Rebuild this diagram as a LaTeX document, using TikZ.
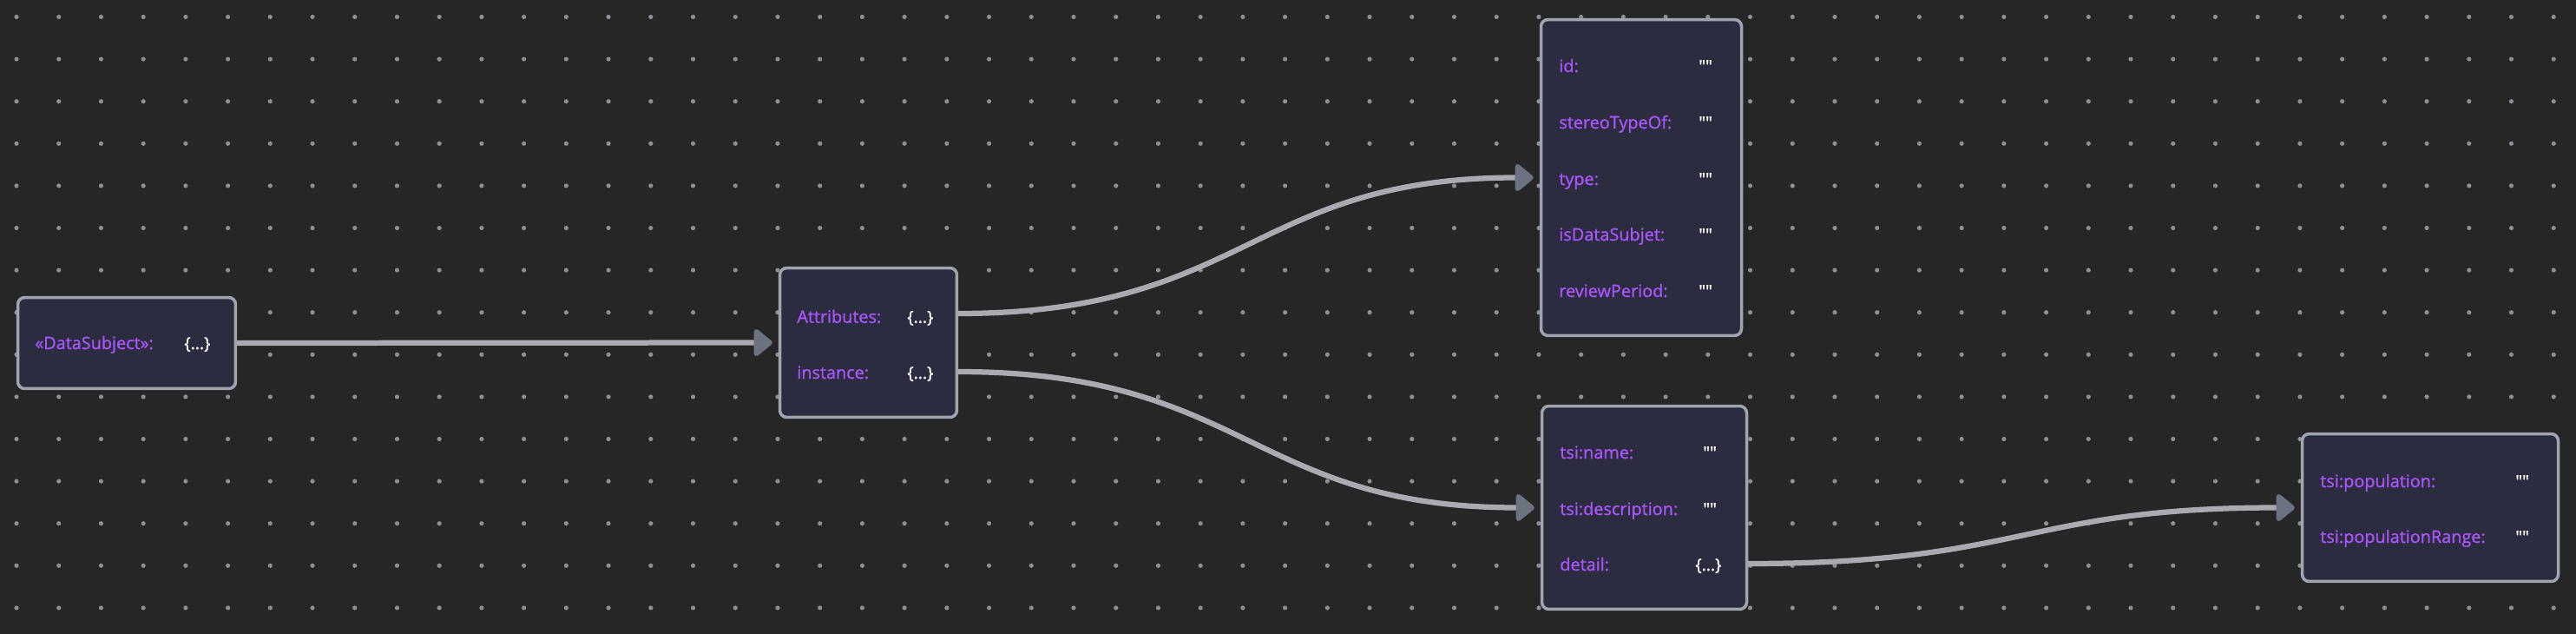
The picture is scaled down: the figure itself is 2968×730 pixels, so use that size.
\documentclass[tikz,border=0pt]{standalone}
\usepackage{fontspec}
\setmainfont{Open Sans}
\newfontfamily\keyfont{Open Sans}[FakeBold=1.2]
\newfontfamily\valfont{Open Sans}[FakeBold=1.2,Ligatures=TeXOff]
\usetikzlibrary{arrows.meta}
\definecolor{bgcol}{HTML}{262626}
\definecolor{dotcol}{HTML}{8E8E94}
\definecolor{boxfill}{HTML}{2B2C3F}
\definecolor{boxborder}{HTML}{A0A4AE}
\definecolor{keycol}{HTML}{A855F7}
\definecolor{edgecol}{HTML}{AAAAB0}
\definecolor{tipcol}{HTML}{6B7280}
\begin{document}
\begin{tikzpicture}[x=0.02cm,y=-0.02cm,
  box/.style={draw=boxborder, fill=boxfill, line width=0.07cm, rounded corners=0.16cm, inner sep=0pt},
  key/.style={anchor=base west, text=keycol, font=\keyfont\fontsize{11.3}{14}\selectfont, inner sep=0pt},
  val/.style={anchor=base west, text=white, font=\valfont\fontsize{11}{14}\selectfont, inner sep=0pt},
  link/.style={draw=edgecol, line width=0.125cm, -{Triangle[length=0.46cm,width=0.72cm,color=tipcol,round]}, shorten >=0.14cm}
]
\fill[bgcol] (0,0) rectangle (2968,730);
\useasboundingbox (0,0) rectangle (2968,730);
\foreach \i in {0,...,60}{\foreach \j in {0,...,14}{\fill[dotcol] ({19+48.72*\i},{19.5+48.6*\j}) circle (0.052cm);}}

% boxes
\node[box, minimum width=5.02cm, minimum height=2.1cm] (ds) at (146,395) {};
\node[box, minimum width=4.08cm, minimum height=3.44cm] (attr) at (1000.5,394.5) {};
\node[box, minimum width=4.62cm, minimum height=7.28cm] (meta) at (1891,204.5) {};
\node[box, minimum width=4.72cm, minimum height=4.68cm] (tsi) at (1894.5,584.5) {};
\node[box, minimum width=5.9cm, minimum height=3.4cm] (pop) at (2800,584.5) {};

% texts
\node[key] (k1) at (40,402) {«DataSubject»:};
\node[val] (v1) at (212,402) {\{...\}};

\node[key] (k2) at (918,371.7) {Attributes:};
\node[val] (v2) at (1045,371.7) {\{...\}};
\node[key] (k3) at (918,436) {instance:};
\node[val] (v3) at (1045,436) {\{...\}};

\node[key] (k4) at (1796,83) {id:};
\node[val] (v4) at (1957,83) {""};
\node[key] (k5) at (1796,148) {stereoTypeOf:};
\node[val] (v5) at (1957,148) {""};
\node[key] (k6) at (1796,213) {type:};
\node[val] (v6) at (1957,213) {""};
\node[key] (k7) at (1796,277) {isDataSubjet:};
\node[val] (v7) at (1957,277) {""};
\node[key] (k8) at (1796,342) {reviewPeriod:};
\node[val] (v8) at (1957,342) {""};

\node[key] (k9) at (1797,528) {tsi:name:};
\node[val] (v9) at (1962,528) {""};
\node[key] (k10) at (1797,593) {tsi:description:};
\node[val] (v10) at (1962,593) {""};
\node[key] (k11) at (1797,657) {detail:};
\node[val] (v11) at (1953,657) {\{...\}};

\node[key] (k12) at (2673,561) {tsi:population:};
\node[val] (v12) at (2898,561) {""};
\node[key] (k13) at (2673,625) {tsi:populationRange:};
\node[val] (v13) at (2898,625) {""};

% ports
\coordinate (pA) at (1104,361);
\coordinate (pB) at (1104,428);
\coordinate (pD) at (2014,649);

% connectors
\draw[link] (ds.east) -- (attr.west);
\draw[link] (pA) .. controls +(332,0) and +(-332,0) .. (meta.west);
\draw[link] (pB) .. controls +(332,0) and +(-332,0) .. (tsi.west);
\draw[link] (pD) .. controls +(318,0) and +(-318,0) .. (pop.west);
\end{tikzpicture}
\end{document}
